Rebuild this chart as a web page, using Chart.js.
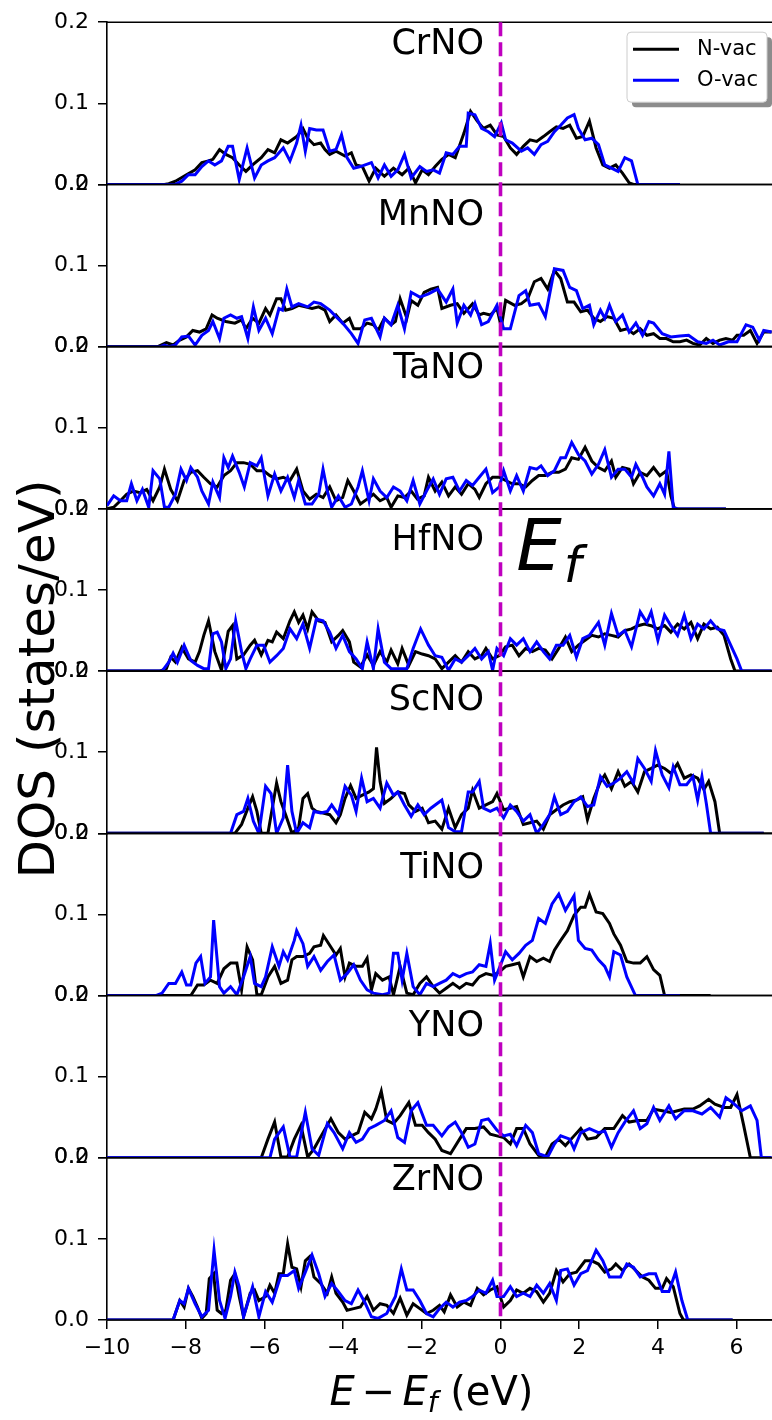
<!DOCTYPE html>
<html>
<head>
<meta charset="utf-8">
<title>DOS - N-vac vs O-vac</title>
<script src="https://cdn.jsdelivr.net/npm/chart.js@4.4.1/dist/chart.umd.min.js"></script>
<style>
  html, body { margin: 0; padding: 0; background: #fff; }
  #wrap { position: relative; width: 772px; height: 1420px; }
</style>
</head>
<body>
<div id="wrap"><canvas id="dos" width="772" height="1420"></canvas></div>
<script>
// panels, top to bottom
const panelNames = ['CrNO', 'MnNO', 'TaNO', 'HfNO', 'ScNO', 'TiNO', 'YNO', 'ZrNO'];
const seriesNames = ['N-vac', 'O-vac'];
const xTicks = [-10, -8, -6, -4, -2, 0, 2, 4, 6];
const yTicks = [0, 0.1, 0.2];
// where each panel name sits (states/eV, inside its own panel)
const titleY = [0.172, 0.161, 0.172, 0.160, 0.163, 0.156, 0.161, 0.171];

// DOS curves, [E - Ef (eV), DOS (states/eV)]
const crN = [[-10,0],[-8.54,0],[-8.43,.001],[-8.26,.004],[-7.98,.012],[-7.76,.018],[-7.59,.027],[-7.42,.029],[-7.31,.031],[-7.14,.043],[-6.98,.037],[-6.81,.033],[-6.64,.024],[-6.47,.016],[-6.30,.024],[-6.08,.033],[-5.91,.043],[-5.74,.039],[-5.58,.055],[-5.41,.051],[-5.18,.059],[-5.02,.069],[-4.90,.057],[-4.74,.049],[-4.57,.051],[-4.46,.043],[-4.34,.037],[-4.18,.041],[-3.95,.035],[-3.79,.039],[-3.67,.024],[-3.51,.022],[-3.34,.004],[-3.17,.020],[-2.95,.010],[-2.72,.020],[-2.50,.012],[-2.33,.020],[-2.16,.002],[-1.99,.018],[-1.83,.012],[-1.66,.022],[-1.49,.031],[-1.32,.037],[-1.15,.033],[-0.93,.063],[-0.76,.090],[-0.59,.078],[-0.43,.069],[-0.26,.073],[-0.09,.061],[0.08,.059],[0.25,.045],[0.41,.037],[0.58,.047],[0.75,.055],[0.92,.053],[1.09,.059],[1.25,.065],[1.42,.071],[1.59,.069],[1.76,.073],[1.93,.057],[2.09,.059],[2.26,.078],[2.43,.045],[2.60,.024],[2.77,.020],[2.93,.024],[3.10,.014],[3.27,.002],[3.38,0],[4.56,0]];
const crO = [[-10,0],[-8.26,0],[-8.10,.004],[-7.93,.012],[-7.76,.012],[-7.59,.022],[-7.42,.029],[-7.26,.024],[-7.09,.029],[-6.92,.047],[-6.81,.047],[-6.64,.006],[-6.44,.045],[-6.25,.008],[-6.08,.024],[-5.91,.029],[-5.74,.033],[-5.52,.045],[-5.35,.029],[-5.18,.051],[-5.07,.073],[-4.96,.041],[-4.85,.069],[-4.68,.067],[-4.51,.067],[-4.34,.041],[-4.18,.043],[-4.04,.061],[-3.90,.033],[-3.73,.020],[-3.56,.022],[-3.28,.027],[-3.11,.008],[-2.95,.024],[-2.78,.010],[-2.61,.018],[-2.44,.037],[-2.27,.008],[-2.05,.022],[-1.88,.016],[-1.71,.018],[-1.55,.014],[-1.38,.039],[-1.21,.037],[-1.04,.047],[-0.87,.047],[-0.82,.088],[-0.65,.086],[-0.48,.069],[-0.31,.065],[-0.15,.059],[0.02,.076],[0.13,.055],[0.30,.051],[0.53,.041],[0.69,.045],[0.86,.037],[1.03,.049],[1.20,.053],[1.37,.065],[1.53,.073],[1.70,.082],[1.87,.086],[1.98,.069],[2.15,.055],[2.32,.057],[2.49,.049],[2.65,.024],[2.82,.020],[2.99,.016],[3.16,.033],[3.33,.029],[3.49,0],[4.56,0]];
const mnN = [[-10,0],[-8.71,0],[-8.49,.005],[-8.32,.002],[-8.15,.008],[-7.98,.012],[-7.82,.020],[-7.65,.018],[-7.48,.022],[-7.33,.039],[-7.20,.035],[-6.98,.031],[-6.75,.029],[-6.58,.033],[-6.47,.022],[-6.30,.035],[-6.14,.029],[-5.97,.047],[-5.86,.039],[-5.69,.059],[-5.58,.059],[-5.46,.045],[-5.30,.047],[-5.13,.051],[-4.96,.049],[-4.79,.047],[-4.62,.049],[-4.46,.045],[-4.34,.031],[-4.18,.039],[-4.01,.029],[-3.84,.035],[-3.73,.022],[-3.56,.022],[-3.39,.029],[-3.23,.027],[-3.11,.020],[-2.95,.035],[-2.78,.027],[-2.67,.031],[-2.55,.059],[-2.38,.035],[-2.27,.057],[-2.10,.051],[-1.94,.067],[-1.77,.071],[-1.60,.073],[-1.49,.047],[-1.27,.051],[-1.10,.053],[-0.93,.041],[-0.71,.053],[-0.54,.039],[-0.43,.041],[-0.26,.039],[-0.09,.047],[0.02,.024],[0.13,.057],[0.36,.051],[0.53,.053],[0.69,.059],[0.86,.080],[1.03,.084],[1.20,.071],[1.37,.094],[1.53,.084],[1.70,.055],[1.87,.055],[2.04,.043],[2.21,.045],[2.37,.035],[2.54,.031],[2.71,.037],[2.88,.035],[3.05,.020],[3.21,.022],[3.38,.016],[3.55,.022],[3.72,.014],[3.89,.016],[4.05,.010],[4.22,.010],[4.39,.006],[4.56,.006],[4.73,.008],[4.89,.004],[5.06,.002],[5.23,.010],[5.40,.004],[5.57,.008],[5.73,.010],[5.90,.008],[6.01,.014],[6.18,.014],[6.35,.020],[6.52,.004],[6.69,.018],[6.89,.018]];
const mnO = [[-10,0],[-8.65,0],[-8.54,.002],[-8.43,0],[-8.26,.002],[-8.10,.012],[-7.93,.013],[-7.76,.002],[-7.59,.014],[-7.42,.020],[-7.31,.031],[-7.14,.010],[-7.03,.035],[-6.86,.039],[-6.70,.035],[-6.58,.037],[-6.42,.010],[-6.28,.049],[-6.14,.020],[-5.97,.035],[-5.80,.016],[-5.63,.047],[-5.54,.045],[-5.43,.071],[-5.30,.049],[-5.13,.053],[-4.90,.049],[-4.74,.055],[-4.57,.053],[-4.34,.045],[-4.18,.037],[-4.01,.029],[-3.79,.016],[-3.62,.004],[-3.45,.033],[-3.28,.035],[-3.06,.012],[-2.95,.035],[-2.78,.027],[-2.61,.051],[-2.44,.022],[-2.27,.067],[-2.05,.061],[-1.83,.065],[-1.60,.071],[-1.38,.055],[-1.21,.071],[-1.10,.029],[-0.93,.051],[-0.76,.039],[-0.65,.053],[-0.48,.027],[-0.31,.031],[-0.09,.051],[0.08,.022],[0.25,.022],[0.47,.063],[0.64,.069],[0.75,.051],[0.97,.053],[1.14,.037],[1.31,.080],[1.37,.096],[1.59,.094],[1.76,.073],[1.93,.069],[2.09,.047],[2.26,.051],[2.37,.027],[2.54,.045],[2.65,.035],[2.77,.051],[2.93,.031],[3.10,.039],[3.27,.018],[3.44,.029],[3.61,.014],[3.77,.031],[3.89,.029],[4.11,.016],[4.33,.012],[4.56,.013],[4.78,.014],[5.01,.006],[5.23,.004],[5.40,.008],[5.57,.002],[5.79,.006],[6.01,.006],[6.24,.027],[6.41,.024],[6.58,.008],[6.69,.020],[6.89,.018]];
const taN = [[-10,0],[-9.83,.002],[-9.66,.010],[-9.50,.018],[-9.33,.022],[-9.16,.020],[-8.99,.024],[-8.83,.010],[-8.66,.027],[-8.54,.049],[-8.38,.024],[-8.21,.010],[-8.04,.035],[-7.87,.045],[-7.70,.047],[-7.54,.039],[-7.37,.031],[-7.20,.027],[-7.03,.041],[-6.86,.047],[-6.70,.057],[-6.53,.057],[-6.36,.055],[-6.19,.047],[-6.02,.047],[-5.86,.041],[-5.69,.037],[-5.52,.039],[-5.35,.035],[-5.18,.049],[-5.02,.022],[-4.85,.012],[-4.68,.018],[-4.51,.014],[-4.34,.027],[-4.18,.010],[-4.01,.014],[-3.88,.035],[-3.73,.022],[-3.56,.006],[-3.39,.012],[-3.23,.018],[-3.06,.010],[-2.89,.014],[-2.78,.002],[-2.61,.016],[-2.44,.014],[-2.27,.022],[-2.11,.012],[-1.94,.016],[-1.83,.039],[-1.66,.022],[-1.49,.033],[-1.32,.016],[-1.15,.027],[-0.99,.018],[-0.82,.031],[-0.65,.024],[-0.54,.014],[-0.37,.031],[-0.20,.039],[-0.03,.039],[0.13,.035],[0.30,.031],[0.47,.031],[0.64,.027],[0.81,.035],[0.97,.041],[1.14,.041],[1.31,.045],[1.48,.045],[1.65,.049],[1.81,.063],[1.98,.061],[2.15,.076],[2.32,.059],[2.49,.051],[2.65,.047],[2.82,.059],[2.93,.039],[3.10,.051],[3.27,.049],[3.38,.031],[3.55,.045],[3.72,.041],[3.89,.051],[4.05,.041],[4.22,.047],[4.33,.016],[4.42,0],[5.73,0]];
const taO = [[-10,.004],[-9.83,.016],[-9.66,.010],[-9.50,.010],[-9.38,.031],[-9.24,.010],[-9.10,.024],[-8.94,.002],[-8.83,.047],[-8.66,.037],[-8.54,.002],[-8.43,.002],[-8.26,.018],[-8.12,.049],[-7.98,.035],[-7.87,.051],[-7.70,.039],[-7.59,.022],[-7.42,.006],[-7.31,.033],[-7.14,.014],[-7.03,.063],[-6.92,.051],[-6.81,.065],[-6.64,.045],[-6.51,.027],[-6.36,.057],[-6.19,.053],[-6.08,.063],[-5.91,.016],[-5.74,.043],[-5.58,.022],[-5.41,.039],[-5.24,.014],[-5.13,.035],[-4.96,.006],[-4.79,.006],[-4.62,.018],[-4.51,.049],[-4.40,.022],[-4.29,.002],[-4.12,.016],[-3.95,.002],[-3.79,.006],[-3.62,.027],[-3.51,.047],[-3.34,.010],[-3.23,.037],[-3.06,.022],[-2.89,.014],[-2.72,.027],[-2.55,.022],[-2.38,.010],[-2.22,.035],[-2.05,.006],[-1.88,.022],[-1.71,.037],[-1.55,.018],[-1.38,.037],[-1.21,.039],[-1.04,.022],[-0.87,.035],[-0.71,.029],[-0.54,.039],[-0.37,.049],[-0.20,.020],[-0.03,.027],[0.08,.047],[0.25,.022],[0.41,.041],[0.58,.022],[0.75,.051],[0.92,.049],[1.03,.053],[1.20,.041],[1.37,.047],[1.53,.063],[1.65,.063],[1.81,.082],[1.98,.067],[2.15,.059],[2.32,.043],[2.49,.055],[2.65,.073],[2.82,.039],[2.99,.049],[3.16,.049],[3.33,.039],[3.44,.055],[3.61,.039],[3.72,.027],[3.89,.016],[4.05,.031],[4.17,.018],[4.28,.071],[4.39,.002],[4.50,0],[5.73,0]];
const hfN = [[-10,0],[-8.66,0],[-8.49,.003],[-8.38,.017],[-8.26,.011],[-8.10,.029],[-7.93,.015],[-7.76,.011],[-7.65,.024],[-7.54,.044],[-7.42,.062],[-7.26,.024],[-7.09,.001],[-6.92,.049],[-6.81,.056],[-6.70,.015],[-6.53,.020],[-6.36,.032],[-6.25,.038],[-6.08,.020],[-5.91,.038],[-5.80,.036],[-5.69,.048],[-5.52,.040],[-5.35,.062],[-5.24,.073],[-5.13,.060],[-5.02,.069],[-4.90,.052],[-4.79,.073],[-4.62,.062],[-4.46,.060],[-4.29,.036],[-4.12,.044],[-4.01,.050],[-3.84,.036],[-3.73,.011],[-3.56,.005],[-3.39,.020],[-3.23,.007],[-3.06,.024],[-2.89,.011],[-2.78,.026],[-2.61,.009],[-2.50,.028],[-2.33,.007],[-2.16,.024],[-1.99,.021],[-1.83,.019],[-1.66,.015],[-1.49,.003],[-1.32,.011],[-1.15,.019],[-0.99,.011],[-0.82,.024],[-0.65,.015],[-0.48,.019],[-0.37,.028],[-0.20,.015],[-0.03,.019],[0.13,.030],[0.30,.032],[0.47,.019],[0.64,.028],[0.81,.024],[0.97,.028],[1.14,.026],[1.31,.015],[1.48,.028],[1.65,.042],[1.81,.024],[1.98,.032],[2.15,.038],[2.32,.044],[2.49,.042],[2.65,.046],[2.82,.044],[2.99,.042],[3.16,.050],[3.33,.052],[3.49,.056],[3.66,.058],[3.83,.056],[3.99,.052],[4.17,.056],[4.33,.048],[4.50,.058],[4.67,.052],[4.84,.060],[5.01,.040],[5.17,.058],[5.34,.052],[5.51,.054],[5.68,.044],[5.85,.015],[5.96,0],[6.89,0]];
const hfO = [[-10,0],[-8.60,0],[-8.43,.011],[-8.32,.022],[-8.21,.011],[-8.04,.032],[-7.87,.013],[-7.70,.007],[-7.54,.003],[-7.42,.003],[-7.31,.046],[-7.20,.048],[-7.09,.036],[-6.98,.003],[-6.86,.015],[-6.73,.062],[-6.58,.024],[-6.47,.003],[-6.36,.015],[-6.19,.032],[-6.02,.032],[-5.86,.011],[-5.69,.019],[-5.52,.028],[-5.35,.052],[-5.18,.040],[-5.02,.058],[-4.85,.028],[-4.68,.064],[-4.51,.062],[-4.34,.048],[-4.18,.028],[-4.01,.044],[-3.84,.024],[-3.67,.015],[-3.51,.003],[-3.39,.036],[-3.23,.003],[-3.11,.052],[-2.95,.011],[-2.78,.003],[-2.61,.003],[-2.38,.003],[-2.22,.028],[-2.03,.052],[-1.83,.032],[-1.66,.019],[-1.49,.017],[-1.32,.001],[-1.15,.015],[-0.99,.011],[-0.82,.019],[-0.65,.028],[-0.48,.015],[-0.31,.024],[-0.20,.001],[-0.09,.028],[0.08,.019],[0.25,.040],[0.41,.032],[0.58,.040],[0.75,.024],[0.92,.036],[1.09,.024],[1.25,.015],[1.42,.032],[1.59,.032],[1.76,.044],[1.93,.017],[2.09,.040],[2.26,.044],[2.49,.060],[2.65,.032],[2.82,.071],[2.99,.044],[3.16,.050],[3.33,.030],[3.55,.073],[3.72,.060],[3.83,.073],[4.00,.038],[4.17,.069],[4.33,.056],[4.50,.044],[4.67,.069],[4.84,.040],[5.01,.058],[5.17,.052],[5.34,.062],[5.51,.052],[5.68,.050],[5.85,.032],[6.01,.015],[6.13,0],[6.89,0]];
const scN = [[-10,0],[-6.75,0],[-6.58,.011],[-6.42,.031],[-6.30,.045],[-6.19,.027],[-6.08,0],[-5.91,0],[-5.80,.031],[-5.69,.062],[-5.58,.039],[-5.46,.023],[-5.30,0],[-5.13,.007],[-5.02,.043],[-4.90,.049],[-4.79,.031],[-4.68,.027],[-4.51,.025],[-4.34,.023],[-4.18,.013],[-4.07,.023],[-3.95,.043],[-3.81,.059],[-3.67,.043],[-3.51,.047],[-3.34,.051],[-3.23,.055],[-3.15,.106],[-3.06,.064],[-2.95,.037],[-2.78,.043],[-2.61,.051],[-2.44,.049],[-2.33,.035],[-2.16,.027],[-1.99,.031],[-1.83,.013],[-1.66,.015],[-1.49,.005],[-1.32,.031],[-1.15,.007],[-0.99,.023],[-0.82,.031],[-0.71,.053],[-0.54,.031],[-0.37,.035],[-0.20,.039],[-0.09,.049],[0.08,.029],[0.25,.031],[0.41,.033],[0.58,.011],[0.75,.013],[0.92,.015],[1.09,.005],[1.25,.023],[1.42,.029],[1.59,.035],[1.76,.039],[1.93,.041],[2.09,.045],[2.21,.017],[2.37,.043],[2.54,.064],[2.65,.072],[2.82,.055],[2.99,.076],[3.16,.058],[3.33,.064],[3.49,.051],[3.66,.076],[3.83,.080],[3.99,.084],[4.17,.080],[4.33,.074],[4.50,.086],[4.67,.068],[4.84,.072],[5.01,.068],[5.17,.054],[5.29,.064],[5.45,.039],[5.57,0],[6.69,0]];
const scO = [[-10,0],[-6.86,0],[-6.70,.023],[-6.53,.027],[-6.42,.043],[-6.28,.015],[-6.14,0],[-5.97,.058],[-5.83,.049],[-5.69,0],[-5.52,.019],[-5.41,.084],[-5.30,.027],[-5.18,0],[-5.02,.013],[-4.85,.007],[-4.74,.027],[-4.57,.025],[-4.40,.027],[-4.29,.035],[-4.12,.023],[-3.95,.058],[-3.79,.047],[-3.67,.027],[-3.53,.068],[-3.39,.039],[-3.23,.043],[-3.06,.031],[-2.89,.062],[-2.72,.047],[-2.61,.051],[-2.44,.035],[-2.27,.021],[-2.10,.035],[-1.94,.023],[-1.77,.031],[-1.60,.037],[-1.49,.041],[-1.32,.007],[-1.15,.002],[-0.99,.002],[-0.82,.051],[-0.71,.051],[-0.54,.064],[-0.43,.031],[-0.26,.027],[-0.09,.031],[0.08,.019],[0.25,.035],[0.41,.027],[0.58,.015],[0.75,.023],[0.92,0],[1.09,.011],[1.25,.023],[1.37,.045],[1.53,.023],[1.70,.027],[1.87,.039],[2.04,.045],[2.21,.033],[2.37,.035],[2.54,.070],[2.71,.058],[2.88,.062],[3.05,.068],[3.21,.076],[3.38,.062],[3.49,.092],[3.66,.080],[3.83,.064],[3.94,.102],[4.11,.072],[4.28,.056],[4.39,.082],[4.56,.060],[4.73,.060],[4.89,.070],[5.01,.041],[5.12,.070],[5.23,.037],[5.34,0],[6.69,0]];
const tiN = [[-10,0],[-7.87,0],[-7.70,.013],[-7.54,.013],[-7.37,.019],[-7.20,.015],[-7.03,.033],[-6.86,.040],[-6.70,.040],[-6.58,.007],[-6.44,.060],[-6.30,.044],[-6.19,.001],[-6.08,.001],[-5.91,.023],[-5.74,.036],[-5.58,.015],[-5.41,.019],[-5.30,.044],[-5.18,.048],[-5.02,.048],[-4.85,.052],[-4.74,.060],[-4.57,.062],[-4.50,.074],[-4.34,.062],[-4.18,.050],[-4.07,.058],[-3.95,.023],[-3.84,.040],[-3.67,.036],[-3.51,.036],[-3.39,.046],[-3.28,.007],[-3.17,.027],[-3.00,.019],[-2.83,.023],[-2.72,.001],[-2.55,.036],[-2.38,.003],[-2.22,.001],[-2.05,.015],[-1.88,.023],[-1.71,.011],[-1.55,.003],[-1.38,.009],[-1.21,.015],[-1.04,.009],[-0.87,.015],[-0.71,.013],[-0.54,.023],[-0.37,.027],[-0.20,.025],[-0.03,.029],[0.13,.036],[0.30,.038],[0.47,.040],[0.58,.023],[0.75,.048],[0.92,.042],[1.09,.046],[1.25,.042],[1.37,.056],[1.53,.068],[1.70,.080],[1.87,.099],[2.04,.109],[2.15,.109],[2.26,.125],[2.43,.103],[2.60,.101],[2.77,.089],[2.88,.076],[3.05,.062],[3.21,.042],[3.38,.040],[3.55,.040],[3.72,.048],[3.89,.032],[4.05,.025],[4.17,0],[5.34,0]];
const tiO = [[-10,0],[-8.76,0],[-8.60,.003],[-8.43,.015],[-8.26,.015],[-8.10,.029],[-7.98,.013],[-7.87,.013],[-7.74,.040],[-7.62,.048],[-7.51,.015],[-7.37,.023],[-7.29,.093],[-7.14,.011],[-7.03,.003],[-6.86,.011],[-6.70,.001],[-6.53,.023],[-6.36,.048],[-6.25,.015],[-6.08,.011],[-5.97,.023],[-5.80,.060],[-5.63,.036],[-5.52,.054],[-5.41,.044],[-5.24,.068],[-5.18,.080],[-5.02,.064],[-4.90,.036],[-4.74,.048],[-4.57,.031],[-4.40,.042],[-4.23,.050],[-4.07,.019],[-3.90,.027],[-3.73,.038],[-3.56,.019],[-3.39,.007],[-3.23,.003],[-3.00,.001],[-2.83,.003],[-2.72,.052],[-2.61,.052],[-2.50,.019],[-2.38,.052],[-2.22,.011],[-2.05,.001],[-1.88,.015],[-1.71,.011],[-1.55,.015],[-1.38,.019],[-1.21,.027],[-1.04,.023],[-0.87,.027],[-0.71,.029],[-0.54,.038],[-0.37,.036],[-0.26,.064],[-0.15,.019],[0.02,.040],[0.13,.054],[0.30,.044],[0.47,.052],[0.64,.062],[0.81,.068],[0.97,.095],[1.14,.089],[1.31,.113],[1.48,.125],[1.65,.105],[1.87,.123],[1.98,.068],[2.15,.058],[2.32,.056],[2.49,.044],[2.65,.036],[2.77,.023],[2.88,.054],[3.05,.050],[3.21,.023],[3.43,0],[4.56,0]];
const yN = [[-10,0],[-6.08,0],[-5.91,.023],[-5.74,.044],[-5.58,.001],[-5.41,.001],[-5.24,.023],[-5.07,.040],[-4.90,.001],[-4.74,.011],[-4.51,.031],[-4.31,.048],[-4.12,.031],[-3.95,.023],[-3.79,.027],[-3.62,.031],[-3.45,.056],[-3.28,.048],[-3.17,.060],[-3.03,.082],[-2.89,.046],[-2.72,.042],[-2.55,.052],[-2.33,.068],[-2.16,.040],[-1.99,.040],[-1.83,.031],[-1.66,.023],[-1.49,.009],[-1.27,.005],[-1.04,.023],[-0.87,.036],[-0.65,.036],[-0.43,.038],[-0.26,.029],[-0.09,.027],[0.08,.025],[0.25,.017],[0.41,.036],[0.58,.036],[0.75,.017],[0.97,.003],[1.14,.001],[1.31,.017],[1.48,.023],[1.65,.015],[1.87,.027],[2.04,.036],[2.21,.023],[2.43,.025],[2.65,.036],[2.88,.036],[3.10,.052],[3.27,.044],[3.49,.046],[3.72,.046],[3.89,.060],[4.11,.058],[4.33,.056],[4.50,.058],[4.67,.060],[4.89,.060],[5.06,.064],[5.29,.072],[5.45,.066],[5.68,.062],[5.85,.062],[6.01,.078],[6.18,.040],[6.35,0],[6.89,0]];
const yO = [[-10,0],[-5.86,0],[-5.74,.023],[-5.52,.038],[-5.35,.001],[-5.18,.001],[-4.96,.056],[-4.79,.011],[-4.62,.003],[-4.40,.042],[-4.23,.031],[-4.01,.011],[-3.84,.031],[-3.67,.019],[-3.51,.023],[-3.34,.036],[-3.17,.040],[-2.95,.046],[-2.78,.058],[-2.61,.025],[-2.44,.019],[-2.27,.058],[-2.10,.068],[-1.88,.040],[-1.71,.040],[-1.49,.027],[-1.32,.038],[-1.15,.044],[-0.99,.031],[-0.82,.013],[-0.65,.017],[-0.48,.046],[-0.31,.048],[-0.09,.034],[0.08,.027],[0.25,.029],[0.41,.015],[0.64,.040],[0.81,.031],[0.97,.005],[1.20,.001],[1.37,.017],[1.53,.027],[1.76,.023],[1.87,.011],[2.04,.031],[2.26,.036],[2.49,.031],[2.65,.033],[2.82,.013],[2.99,.031],[3.16,.044],[3.38,.058],[3.55,.036],[3.72,.042],[3.89,.062],[4.05,.046],[4.28,.064],[4.45,.048],[4.67,.058],[4.89,.058],[5.12,.054],[5.34,.062],[5.57,.050],[5.73,.074],[5.90,.068],[6.13,.058],[6.35,.064],[6.52,.046],[6.63,0],[6.89,0]];
const zrN = [[-10,0],[-8.32,0],[-8.15,.024],[-8.04,.016],[-7.93,.039],[-7.82,.029],[-7.70,.016],[-7.59,.002],[-7.48,.008],[-7.40,.051],[-7.29,.057],[-7.20,.012],[-7.09,.008],[-6.98,.012],[-6.86,.049],[-6.75,.057],[-6.64,.029],[-6.53,.004],[-6.36,.033],[-6.25,.037],[-6.14,.024],[-5.97,.029],[-5.86,.043],[-5.74,.033],[-5.63,.057],[-5.52,.057],[-5.41,.094],[-5.30,.065],[-5.18,.063],[-5.07,.041],[-4.96,.073],[-4.85,.078],[-4.74,.053],[-4.57,.045],[-4.40,.033],[-4.29,.053],[-4.18,.033],[-4.01,.022],[-3.90,.012],[-3.73,.014],[-3.56,.016],[-3.39,.029],[-3.23,.012],[-3.06,.020],[-2.89,.018],[-2.72,.008],[-2.55,.027],[-2.38,.006],[-2.22,.020],[-2.05,.014],[-1.88,.008],[-1.71,.012],[-1.55,.018],[-1.43,.010],[-1.27,.031],[-1.10,.016],[-0.93,.022],[-0.76,.018],[-0.59,.039],[-0.43,.031],[-0.26,.037],[-0.09,.041],[0.08,.016],[0.25,.024],[0.41,.037],[0.58,.033],[0.75,.039],[0.92,.035],[1.09,.022],[1.25,.033],[1.42,.061],[1.59,.047],[1.76,.057],[1.93,.059],[2.15,.073],[2.32,.073],[2.49,.069],[2.65,.059],[2.82,.063],[2.93,.069],[3.10,.061],[3.27,.069],[3.44,.061],[3.61,.053],[3.77,.049],[3.94,.039],[4.11,.039],[4.22,.051],[4.39,.041],[4.56,.008],[4.65,0],[5.90,0]];
const zrO = [[-10,0],[-8.32,0],[-8.15,.024],[-8.04,.020],[-7.93,.039],[-7.76,.020],[-7.59,.004],[-7.42,.012],[-7.28,.086],[-7.14,.024],[-7.00,.002],[-6.86,.029],[-6.75,.059],[-6.64,.041],[-6.53,.004],[-6.30,.041],[-6.14,.004],[-5.97,.035],[-5.80,.022],[-5.58,.055],[-5.41,.055],[-5.24,.061],[-5.13,.039],[-4.96,.059],[-4.79,.080],[-4.62,.057],[-4.46,.029],[-4.29,.045],[-4.12,.035],[-3.95,.024],[-3.79,.020],[-3.62,.037],[-3.45,.022],[-3.28,.004],[-3.11,.002],[-2.89,.008],[-2.67,.029],[-2.52,.063],[-2.38,.037],[-2.22,.037],[-2.05,.024],[-1.88,.008],[-1.71,.004],[-1.55,.014],[-1.38,.022],[-1.21,.016],[-1.04,.022],[-0.87,.024],[-0.71,.029],[-0.54,.037],[-0.37,.033],[-0.20,.049],[-0.09,.029],[0.08,.029],[0.25,.041],[0.41,.029],[0.58,.033],[0.75,.029],[0.92,.043],[1.09,.033],[1.25,.045],[1.42,.024],[1.53,.061],[1.70,.063],[1.87,.043],[2.04,.057],[2.21,.061],[2.43,.086],[2.60,.073],[2.77,.053],[3.05,.053],[3.21,.069],[3.38,.065],[3.55,.053],[3.77,.057],[3.94,.057],[4.11,.035],[4.28,.035],[4.45,.059],[4.61,.024],[4.76,0],[5.90,0]];

const nVac = [crN, mnN, taN, hfN, scN, tiN, yN, zrN];
const oVac = [crO, mnO, taO, hfO, scO, tiO, yO, zrO];

const FONT = '"DejaVu Sans", sans-serif';
const BLACK = '#000000';
const BLUE = '#0000ff';
const FERMI = '#bf00bf';

const toXY = pts => pts.map(([x, y]) => ({ x, y }));

// --- datasets: blue drawn on top of black ---
const datasets = [];
panelNames.forEach((name, i) => {
    datasets.push({ label: seriesNames[0], data: toXY(nVac[i]), yAxisID: 'y' + i,
        borderColor: BLACK, borderWidth: 3, pointRadius: 0, order: 2 });
    datasets.push({ label: seriesNames[1], data: toXY(oVac[i]), yAxisID: 'y' + i,
        borderColor: BLUE, borderWidth: 3, pointRadius: 0, order: 1 });
});

// --- scales: one shared x axis, eight stacked y axes ---
const scales = {
    x: {
        type: 'linear', position: 'bottom', min: -10, max: 6.9,
        afterBuildTicks: s => { s.ticks = xTicks.map(v => ({ value: v })); },
        afterFit: s => { s.height = 100; },
        ticks: {
            font: { family: FONT, size: 22 }, color: BLACK, padding: 6,
            callback: v => (v < 0 ? '\u2212' + Math.abs(v) : String(v))
        },
        grid: { drawOnChartArea: false, tickLength: 9, color: BLACK, lineWidth: 1.5 },
        border: { color: BLACK, width: 1.6 }
    }
};
panelNames.forEach((name, i) => {
    scales['y' + i] = {
        type: 'linear', position: 'left', stack: 'dos', stackWeight: 1,
        weight: panelNames.length - i,   // first panel on top
        min: 0, max: 0.2,
        afterBuildTicks: s => { s.ticks = yTicks.map(v => ({ value: v })); },
        afterFit: s => { s.width = 55; },
        ticks: { font: { family: FONT, size: 22 }, color: BLACK, padding: 9,
                 callback: v => v.toFixed(1) },
        grid: { drawOnChartArea: false, tickLength: 9, color: BLACK, lineWidth: 1.5 },
        border: { color: BLACK, width: 1.6 }
    };
});

// draws text runs (for mathtext-like labels) centred on cx
function drawRuns(ctx, runs, cx, baseY) {
    let total = 0;
    runs.forEach(r => { ctx.font = r.font; r.w = ctx.measureText(r.t).width + (r.gap || 0); total += r.w; });
    let x = cx - total / 2;
    runs.forEach(r => { ctx.font = r.font; ctx.fillText(r.t, x + (r.gap || 0) / 2, baseY + (r.dy || 0)); x += r.w; });
}

// --- frames, Fermi line, panel names, legend and axis titles ---
const decorations = {
    id: 'decorations',
    afterDatasetsDraw(chart) {
        const { ctx, chartArea: a, scales: sc } = chart;
        const xs = sc.x;
        ctx.save();

        // horizontal spines between panels
        ctx.strokeStyle = BLACK;
        ctx.lineWidth = 1.6;
        panelNames.forEach((name, i) => {
            const ys = sc['y' + i];
            ctx.beginPath();
            ctx.moveTo(a.left, ys.top); ctx.lineTo(a.right, ys.top);
            ctx.moveTo(a.left, ys.bottom); ctx.lineTo(a.right, ys.bottom);
            ctx.stroke();
        });

        // Fermi level
        const x0 = xs.getPixelForValue(0);
        ctx.strokeStyle = FERMI;
        ctx.lineWidth = 3.6;
        ctx.setLineDash([14, 6]);
        ctx.beginPath();
        ctx.moveTo(x0, a.top); ctx.lineTo(x0, a.bottom);
        ctx.stroke();
        ctx.setLineDash([]);

        // panel names
        ctx.fillStyle = BLACK;
        ctx.font = '35px ' + FONT;
        ctx.textAlign = 'right';
        ctx.textBaseline = 'middle';
        panelNames.forEach((name, i) => {
            ctx.fillText(name, xs.getPixelForValue(-0.42), sc['y' + i].getPixelForValue(titleY[i]));
        });

        // big E_f label in the HfNO panel
        ctx.textAlign = 'left';
        ctx.textBaseline = 'alphabetic';
        const ex = xs.getPixelForValue(0.4);
        const ey = sc.y3.getPixelForValue(0.125);
        ctx.font = 'italic 72px ' + FONT;
        ctx.fillText('E', ex, ey);
        const ew = ctx.measureText('E').width;
        ctx.font = 'italic 50px ' + FONT;
        ctx.fillText('f', ex + ew + 2, ey + 12);

        // legend with shadow
        const lx = a.right - 145, ly = a.top + 10, lw = 140, lh = 70;
        ctx.fillStyle = 'rgba(0,0,0,0.45)';
        ctx.beginPath(); ctx.roundRect(lx + 5, ly + 5, lw, lh, 4); ctx.fill();
        ctx.fillStyle = '#ffffff';
        ctx.strokeStyle = '#cccccc';
        ctx.lineWidth = 1;
        ctx.beginPath(); ctx.roundRect(lx, ly, lw, lh, 4); ctx.fill(); ctx.stroke();
        ctx.font = '21px ' + FONT;
        ctx.textBaseline = 'middle';
        [BLACK, BLUE].forEach((col, k) => {
            const yy = ly + 17 + k * 31;
            ctx.strokeStyle = col;
            ctx.lineWidth = 3;
            ctx.beginPath(); ctx.moveTo(lx + 6, yy); ctx.lineTo(lx + 52, yy); ctx.stroke();
            ctx.fillStyle = BLACK;
            ctx.fillText(seriesNames[k], lx + 70, yy);
        });

        // x axis title
        ctx.textBaseline = 'alphabetic';
        ctx.fillStyle = BLACK;
        const big = '40px ' + FONT, it = 'italic 40px ' + FONT;
        drawRuns(ctx, [
            { t: 'E', font: it }, { t: '\u2212', font: big, gap: 14 }, { t: 'E', font: it },
            { t: 'f', font: 'italic 28px ' + FONT, dy: 7 }, { t: ' (eV)', font: big }
        ], (a.left + a.right) / 2 - 8, 1405);

        // y axis title
        ctx.save();
        ctx.translate(54, (a.top + a.bottom) / 2 + 8);
        ctx.rotate(-Math.PI / 2);
        ctx.textAlign = 'center';
        ctx.font = '50px ' + FONT;
        ctx.fillText('DOS (states/eV)', 0, 0);
        ctx.restore();

        ctx.restore();
    }
};

new Chart(document.getElementById('dos').getContext('2d'), {
    type: 'line',
    data: { datasets },
    options: {
        responsive: false,
        devicePixelRatio: 1,
        animation: false,
        layout: { padding: { top: 15, left: 52, right: 0, bottom: 0 } },
        elements: { line: { tension: 0, fill: false } },
        plugins: { legend: { display: false }, tooltip: { enabled: false } },
        scales
    },
    plugins: [decorations]
});
</script>
</body>
</html>
